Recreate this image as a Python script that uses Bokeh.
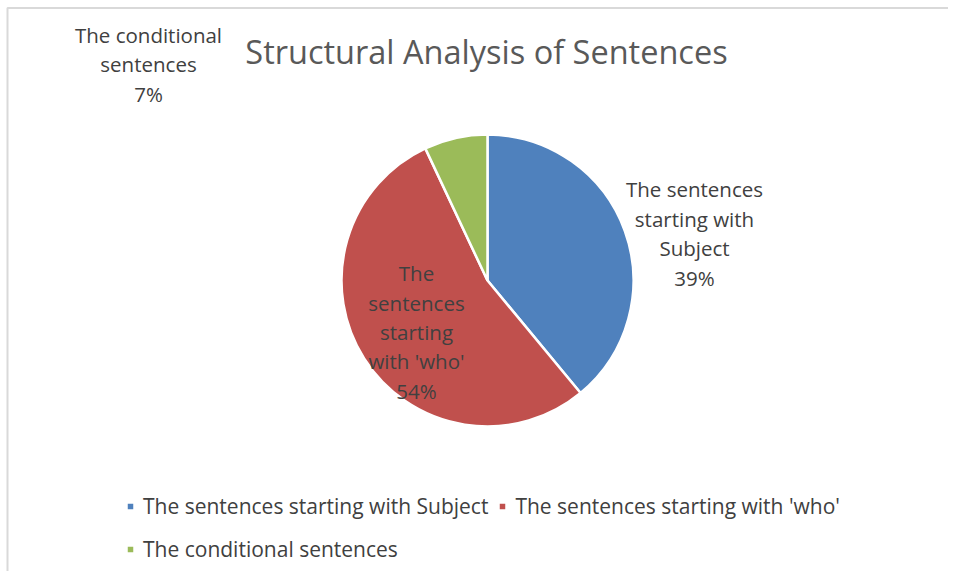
import math
from bokeh.plotting import figure
from bokeh.models import ColumnDataSource, Range1d, Legend, LegendItem
from bokeh.core.properties import value
from bokeh.embed import file_html
from bokeh.resources import INLINE

# ---- data ----
title_text = "Structural Analysis of Sentences"
categories = ["The sentences starting with Subject",
              "The sentences starting with 'who'",
              "The conditional sentences"]
values = [39, 54, 7]
label_wraps = ["The sentences\nstarting with\nSubject",
               "The\nsentences\nstarting\nwith 'who'",
               "The conditional\nsentences"]
colors = ["#4f81bd", "#c0504d", "#9bbb59"]

# ---- layout ----
W, H = 948, 571
CX, CY, R = 487, 291, 146
FONT = "Open Sans"
TXT = "#404040"

total = sum(values)
starts, ends = [], []
acc = 0.0
for v in values:
    starts.append(math.pi / 2 - 2 * math.pi * acc / total)
    acc += v
    ends.append(math.pi / 2 - 2 * math.pi * acc / total)

src = ColumnDataSource(dict(cat=categories, val=values, color=colors,
                            start=starts, end=ends,
                            x=[CX] * 3, y=[CY] * 3))

p = figure(width=W, height=H, output_backend="svg", toolbar_location=None,
           x_axis_type=None, y_axis_type=None, min_border=0,
           x_range=Range1d(0, W), y_range=Range1d(0, H))
p.grid.visible = False
p.outline_line_color = None
p.background_fill_color = "white"
p.border_fill_color = "white"

# chart area border (top / left)
p.line(x=[7, 7, W], y=[0, 563.5, 563.5], line_color="#d9d9d9", line_width=2)

r = p.wedge(x="x", y="y", radius=R, radius_units="screen",
            start_angle="start", end_angle="end", direction="clock",
            fill_color="color", line_color="white", line_width=2.5, source=src)

# data labels
lab_x = [694, 416, 148]
lab_y = [338, 239.5, 507]
lab_txt = [f"{w}\n{v}%" for w, v in zip(label_wraps, values)]
p.text(x=lab_x, y=lab_y, text=lab_txt, text_align="center", text_baseline="middle",
       text_font=value(FONT), text_font_size="20.5px", text_color=TXT,
       text_line_height=1.05)

# title
p.text(x=[486], y=[520], text=[title_text], text_align="center",
       text_baseline="alphabetic", text_font=value(FONT), text_font_size="32.5px",
       text_color="#595959")

# legends
def mk_legend(idx, loc):
    lg = Legend(items=[LegendItem(label=categories[i], renderers=[r], index=i) for i in idx],
                orientation="horizontal", location=loc,
                glyph_width=10, glyph_height=10, label_standoff=8, spacing=9,
                padding=0, margin=0, border_line_color=None,
                background_fill_alpha=0, label_text_font=FONT,
                label_text_font_size="21px", label_text_color=TXT,
                label_height=26)
    p.add_layout(lg, "center")

mk_legend([0, 1], (125, 51))
mk_legend([2], (125, 8))

open("out.html", "w").write(file_html(p, INLINE))
